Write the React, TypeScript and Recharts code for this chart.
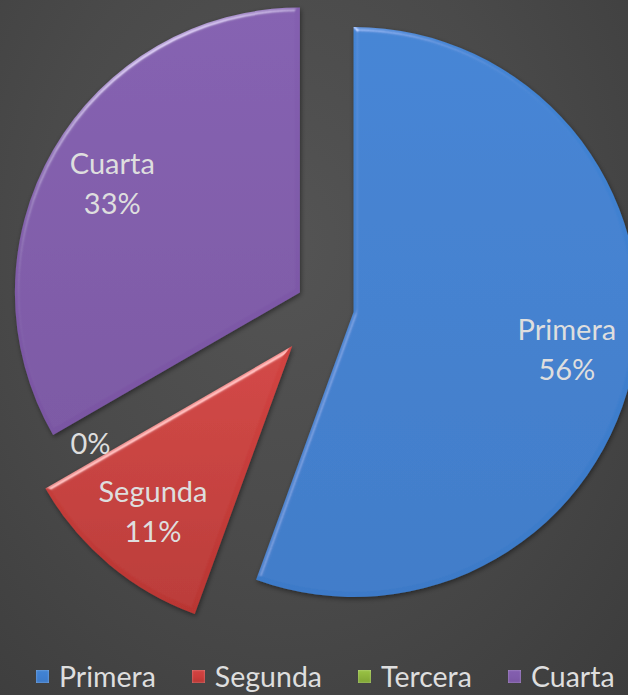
import React from "react";
import { PieChart, Pie, Cell } from "recharts";

const categories = ["Primera", "Segunda", "Tercera", "Cuarta"];
const values = [5, 1, 0, 3];
const percentLabels = ["56%", "11%", "0%", "33%"];
const explode = [29, 51, 0, 29];

const colorsTop = ["#4284d4", "#d24442", "#9ac445", "#845fb0"];
const colorsBottom = ["#3c7ac8", "#b93633", "#7fa534", "#7a56a3"];
const legendColors = ["#3f7fd0", "#cc3d3b", "#8db43c", "#805cab"];

const W = 628;
const H = 695;
const CX = 325;
const CY = 307;
const R = 285;
const FONT = "Lato, 'Open Sans', sans-serif";
const TEXT = "#dedede";

const data = categories.map((name, i) => ({ name, value: values[i] }));
const total = values.reduce((a, b) => a + b, 0);

function midAngleOf(i: number) {
  let cum = 0;
  for (let k = 0; k < i; k++) cum += values[k];
  return 90 - (360 * (cum + values[i] / 2)) / total;
}

const RAD = Math.PI / 180;

function makeLabel(idx: number) {
  return (props: any) => {
    if (props.index !== idx) return null;
    const { cx, cy, midAngle, outerRadius } = props;
    if (values[idx] === 0) {
      const a = midAngle * RAD;
      const x = cx + outerRadius * 0.95 * Math.cos(a);
      const y = cy - outerRadius * 0.95 * Math.sin(a);
      return (
        <text x={x} y={y} fill={TEXT} fontFamily={FONT} fontSize={29} textAnchor="middle" dominantBaseline="central">
          {percentLabels[idx]}
        </text>
      );
    }
    const a = midAngle * RAD;
    const x = cx + outerRadius * 0.76 * Math.cos(a);
    const y = cy - outerRadius * 0.76 * Math.sin(a);
    return (
      <text x={x} y={y} fill={TEXT} fontFamily={FONT} fontSize={29} textAnchor="middle">
        <tspan x={x} dy={-10}>{categories[idx]}</tspan>
        <tspan x={x} dy={40}>{percentLabels[idx]}</tspan>
      </text>
    );
  };
}

export default function App() {
  return (
    <div
      style={{
        position: "absolute",
        left: 0,
        top: 0,
        width: W,
        height: H,
        overflow: "hidden",
        background: "radial-gradient(ellipse at 45% 35%, #545454 0%, #4a4a4a 50%, #3c3c3c 100%)",
      }}
    >
      <PieChart width={W} height={H} margin={{ top: 0, right: 0, bottom: 0, left: 0 }}>
        <defs>
          {categories.map((c, i) => (
            <linearGradient key={c} id={`g${i}`} x1="0" y1="0" x2="0" y2="1">
              <stop offset="0%" stopColor={colorsTop[i]} />
              <stop offset="100%" stopColor={colorsBottom[i]} />
            </linearGradient>
          ))}
          <filter id="bevel" x="-10%" y="-10%" width="120%" height="120%">
            <feGaussianBlur in="SourceAlpha" stdDeviation="2" result="blur" />
            <feSpecularLighting in="blur" surfaceScale="4" specularConstant="0.9" specularExponent="16" lightingColor="#ffffff" result="spec">
              <feDistantLight azimuth="240" elevation="14" />
            </feSpecularLighting>
            <feComposite in="spec" in2="SourceAlpha" operator="in" result="specOut" />
            <feComposite in="SourceGraphic" in2="specOut" operator="arithmetic" k1="0" k2="1" k3="0.5" k4="0" result="lit" />
            <feOffset in="SourceAlpha" dx="1" dy="2" result="off" />
            <feGaussianBlur in="off" stdDeviation="2.5" result="shadowBlur" />
            <feColorMatrix in="shadowBlur" type="matrix" values="0 0 0 0 0  0 0 0 0 0  0 0 0 0 0  0 0 0 0.45 0" result="shadow" />
            <feMerge>
              <feMergeNode in="shadow" />
              <feMergeNode in="lit" />
            </feMerge>
          </filter>
        </defs>
        {categories.map((c, i) => {
          const m = midAngleOf(i) * RAD;
          const pcx = CX + explode[i] * Math.cos(m);
          const pcy = CY - explode[i] * Math.sin(m);
          return (
            <Pie
              key={c}
              data={data}
              dataKey="value"
              nameKey="name"
              cx={pcx}
              cy={pcy}
              innerRadius={0}
              outerRadius={R}
              startAngle={90}
              endAngle={-270}
              stroke="none"
              isAnimationActive={false}
              labelLine={false}
              label={makeLabel(i)}
              legendType="none"
            >
              {data.map((d, k) => (
                <Cell
                  key={d.name}
                  fill={k === i ? `url(#g${k})` : "transparent"}
                  stroke="none"
                  filter={k === i ? "url(#bevel)" : undefined}
                />
              ))}
            </Pie>
          );
        })}
      </PieChart>
      <div
        style={{
          position: "absolute",
          left: 36,
          top: 659,
          display: "flex",
          alignItems: "center",
          fontFamily: FONT,
          fontSize: 28.5,
          color: TEXT,
          whiteSpace: "nowrap",
        }}
      >
        {categories.map((c, i) => (
          <div key={c} style={{ display: "flex", alignItems: "center", marginRight: i < categories.length - 1 ? 36 : 0 }}>
            <div
              style={{
                width: 13,
                height: 13,
                marginRight: 10,
                background: `linear-gradient(180deg, ${colorsTop[i]} 0%, ${legendColors[i]} 50%, ${colorsBottom[i]} 100%)`,
                boxShadow: "inset 0 0 2px rgba(255,255,255,0.5)",
              }}
            />
            <span>{c}</span>
          </div>
        ))}
      </div>
    </div>
  );
}
